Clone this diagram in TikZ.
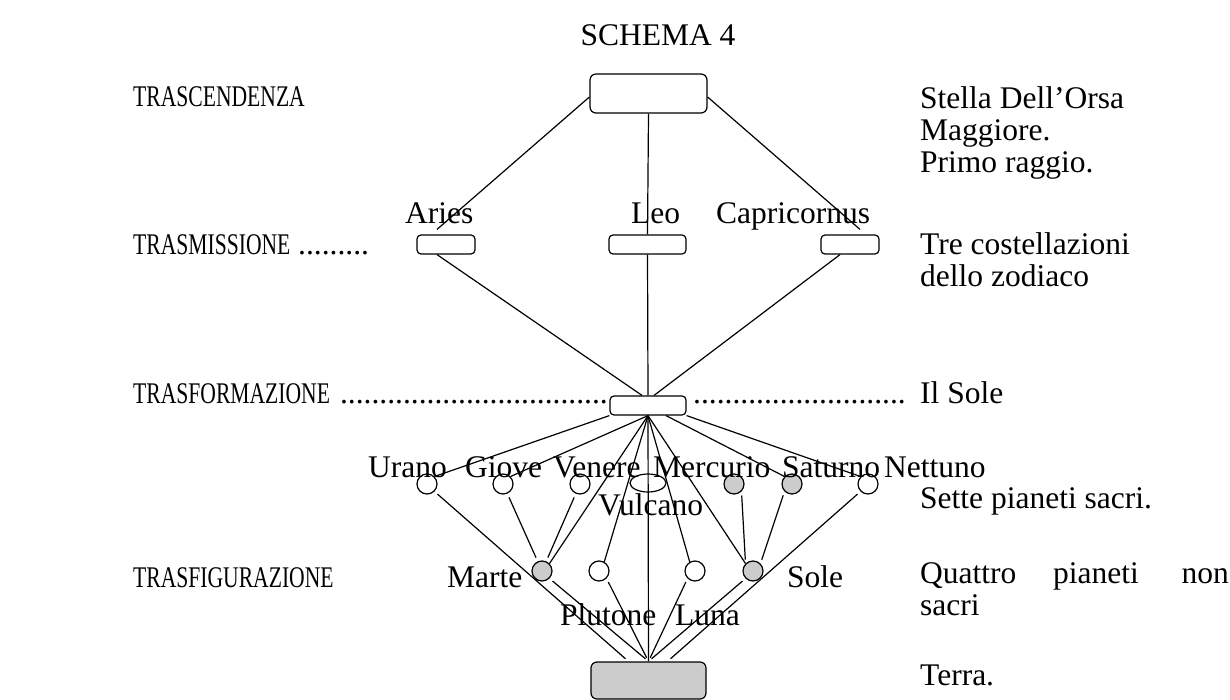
\documentclass[tikz,border=0pt]{standalone}
\usepackage{fontspec}
\setmainfont{Liberation Serif}
\usetikzlibrary{shapes.geometric,calc}
\newcommand{\lvtext}[1]{\scalebox{0.72}[1]{#1}}
\begin{document}
\begin{tikzpicture}[x=1pt,y=-1pt,
  every node/.style={font=\fontsize{31.5}{31.7}\selectfont},
  lbl/.style={inner sep=0pt, anchor=base west},
  lvl/.style={lbl, font=\fontsize{30}{32}\selectfont},
  rbox/.style={draw, rounded corners=4pt, minimum width=#1, minimum height=19pt, inner sep=0pt, line width=1.2pt},
  pl/.style={draw, circle, minimum size=20pt, inner sep=0pt, line width=1.2pt, fill=white},
  gpl/.style={pl, fill=black!20},
  conn/.style={line width=1.2pt},
  gap/.style={conn, shorten <=4pt, shorten >=4pt}
]
\useasboundingbox (0,0) rectangle (1230,700);

% boxes
\node[rbox=117pt, minimum height=39pt, rounded corners=6pt] (top) at (648.5,93.5) {};
\node[rbox=58pt] (aries) at (446,244.5) {};
\node[rbox=77pt] (leo) at (647.5,244.5) {};
\node[rbox=58pt] (capr) at (850,244.5) {};
\node[rbox=76pt] (sun) at (648,405.5) {};
\node[rbox=115pt, minimum height=37pt, rounded corners=6pt, fill=black!20] (terra) at (648.5,680.5) {};

% planets
\node[pl] (urano) at (427,484) {};
\node[pl] (giove) at (503,484) {};
\node[pl] (venere) at (580,484) {};
\node[draw, ellipse, minimum width=36pt, minimum height=18pt, inner sep=0pt, line width=1.2pt] (vulcano) at (648,483) {};
\node[gpl] (mercurio) at (734,484) {};
\node[gpl] (saturno) at (792,484) {};
\node[pl] (nettuno) at (868,484) {};
\node[gpl] (marte) at (542,571) {};
\node[pl] (plutone) at (599,571) {};
\node[pl] (luna) at (695,571) {};
\node[gpl] (sole) at (753,571) {};

% connectors top
\draw[conn] ([yshift=-3.5pt]top.west) -- ([xshift=-9pt,yshift=5pt]aries.north);
\draw[conn] (top.south) -- (leo.north);
\draw[conn] ([yshift=-3.5pt]top.east) -- ([xshift=10pt,yshift=5pt]capr.north);
\draw[conn] ([xshift=-9pt]aries.south) -- ([xshift=-6pt]sun.north);
\draw[conn] (leo.south) -- (sun.north);
\draw[conn] ([xshift=-10pt]capr.south) -- ([xshift=6pt]sun.north);

% sun to planets
\draw[conn] (sun.south west) -- (urano.north east);
\draw[conn] (sun.south) -- (giove.north east);
\draw[conn] (sun.south) -- (marte.north east);
\draw[conn] (sun.south) -- (plutone.60);
\draw[conn] (sun.south) -- (terra.north);
\draw[conn] (sun.south) -- (luna.120);
\draw[conn] (sun.south) -- (sole.north west);
\draw[conn] ([xshift=18pt]sun.south) -- (saturno.north west);
\draw[conn] (sun.south east) -- (nettuno.north west);

% first row to second row / terra
\draw[gap] (urano.south east) -- ([xshift=-20pt]terra.north);
\draw[gap] (giove) -- (marte);
\draw[gap] (venere) -- (marte);
\draw[gap] (mercurio.south east) -- (sole.north west);
\draw[gap] (saturno.south west) -- (sole.north east);
\draw[gap] (nettuno.south west) -- ([xshift=19pt]terra.north);
\draw[gap] (marte.south east) -- (terra.north);
\draw[gap] (plutone.south east) -- (terra.north);
\draw[gap] (luna.south west) -- (terra.north);
\draw[gap] (sole.south west) -- (terra.north);

% labels
\node[lbl, anchor=base] (title) at (658,46) {SCHEMA 4};
\node[lvl] (l1) at (133,107) {\lvtext{TRASCENDENZA}};
\node[lvl] (l2) at (133,255) {\lvtext{TRASMISSIONE}};
\node[lbl] (l2d) at (298,255) {.........};
\node[lvl] (l3) at (133,403) {\lvtext{TRASFORMAZIONE}};
\node[lbl, anchor=base east] (l3d) at (608,403) {..................................};
\node[lbl] (l3e) at (693,403) {...........................};
\node[lvl] (l4) at (133,587) {\lvtext{TRASFIGURAZIONE}};

\node[lbl] (r1) at (920,109) {Stella Dell’Orsa};
\node[lbl] (r1b) at (920,141) {Maggiore.};
\node[lbl] (r1c) at (920,173) {Primo raggio.};
\node[lbl] (r2) at (920,255) {Tre costellazioni};
\node[lbl] (r2b) at (920,287) {dello zodiaco};
\node[lbl] (r3) at (920,403) {Il Sole};
\node[lbl] (r4) at (920,508) {Sette pianeti sacri.};
\node[lbl] (r5a) at (920,583) {Quattro};
\node[lbl] (r5b) at (1053,583) {pianeti};
\node[lbl, anchor=base east] (r5c) at (1229,583) {non};
\node[lbl] (r5d) at (920,615) {sacri};
\node[lbl] (r6) at (920,685) {Terra.};

\node[lbl] (t1) at (405,224) {Aries};
\node[lbl] (t2) at (631,224) {Leo};
\node[lbl] (t3) at (716,224) {Capricornus};

\node[lbl] (p1) at (368,477) {Urano};
\node[lbl] (p2) at (465,477) {Giove};
\node[lbl] (p3) at (553,477) {Venere};
\node[lbl] (p4) at (653,477) {Mercurio};
\node[lbl] (p5) at (782,477) {Saturno};
\node[lbl] (p6) at (884,477) {Nettuno};
\node[lbl] (p7) at (598,515) {Vulcano};
\node[lbl] (q1) at (447,587) {Marte};
\node[lbl] (q2) at (787,587) {Sole};
\node[lbl] (q3) at (560,625) {Plutone};
\node[lbl] (q4) at (675,625) {Luna};
\end{tikzpicture}
\end{document}
